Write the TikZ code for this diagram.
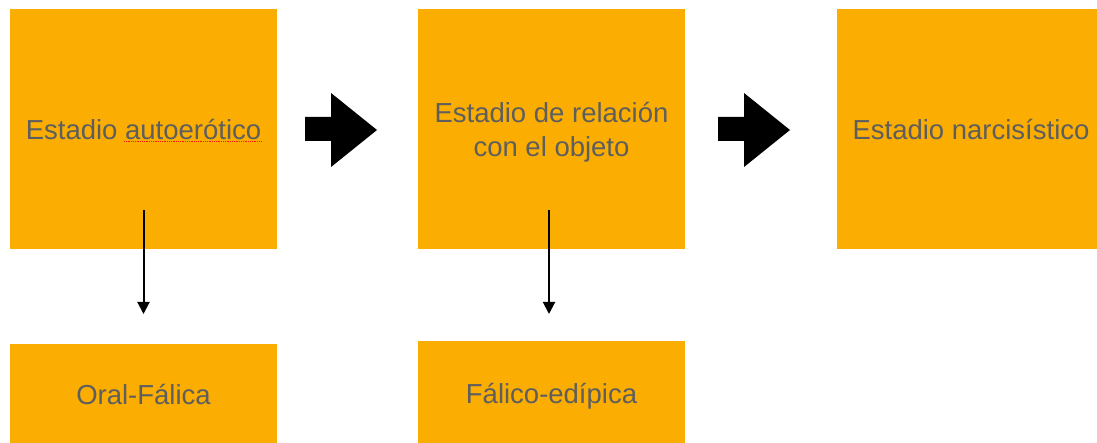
\documentclass[tikz,border=0pt]{standalone}
\usepackage{fontspec}
\setmainfont{Liberation Sans}
\usetikzlibrary{arrows.meta}
\definecolor{boxfill}{HTML}{FBAE01}
\definecolor{txt}{HTML}{5E5E5E}
\tikzset{
  stage/.style={rectangle, fill=boxfill, draw=none, inner sep=0pt, font=\fontsize{27.5}{34}\selectfont, text=txt, align=center},
  stagetext/.style={inner sep=0pt, font=\fontsize{27.5}{34}\selectfont, text=txt, align=center},
  bigarrow/.style={fill=black, draw=none},
  thinarrow/.style={line width=2pt, -{Triangle[width=12pt,length=12pt]}}
}
\begin{document}
\begin{tikzpicture}[x=1pt,y=-1pt]
\useasboundingbox (0,0) rectangle (1097,443);
% top boxes
\node[stage, minimum width=267pt, minimum height=240pt] (s1) at (143.5,129.5) {Estadio autoerótico};
\node[stage, minimum width=267pt, minimum height=240pt] (s2) at (551.5,129.5) {};
\node[stagetext, yshift=-3pt] (s2t) at (s2.center) {Estadio de relación\\con el objeto};
\node[stage, minimum width=260pt, minimum height=240pt] (s3) at (967,129.5) {};
\node[stagetext] (s3t) at (971,129.5) {Estadio narcisístico};
% bottom boxes
\node[stage, minimum width=267pt, minimum height=102pt] (b1) at (143.5,395) {Oral-Fálica};
\node[stage, minimum width=267pt, minimum height=110pt] (b2) at (551.5,396) {Fálico-edípica};
% spell-check underline
\draw[red!80!orange, line width=0.9pt, dash pattern=on 0.9pt off 0.9pt] (124,141.5) -- (261,141.5);
% big block arrows
\fill[bigarrow] (305,117) -- (331,117) -- (331,93) -- (377,130) -- (331,167) -- (331,141) -- (305,141) -- cycle;
\fill[bigarrow] (718,117) -- (744,117) -- (744,93) -- (790,130) -- (744,167) -- (744,141) -- (718,141) -- cycle;
% thin arrows
\coordinate (a1s) at (143.5,210);
\coordinate (a1e) at (143.5,314);
\coordinate (a2s) at (549,210);
\coordinate (a2e) at (549,314);
\draw[thinarrow] (a1s) -- (a1e);
\draw[thinarrow] (a2s) -- (a2e);
\end{tikzpicture}
\end{document}
